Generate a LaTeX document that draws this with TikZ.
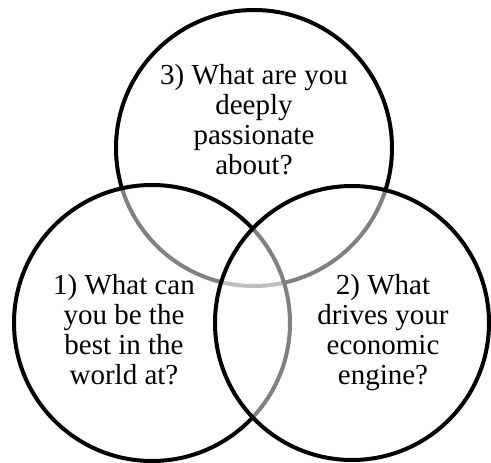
\documentclass[tikz,border=0pt]{standalone}
\usepackage{fontspec}
\setmainfont{Liberation Serif}
\begin{document}
\begin{tikzpicture}[x=1pt,y=-1pt,
    ring/.style={draw=black,line width=4pt,fill=white,fill opacity=0.5},
    question/.style={align=center,font=\fontsize{29}{30}\selectfont}]
  \useasboundingbox (0,0) rectangle (491,463);

  % three rings, each one half-covers the lines drawn before it
  \filldraw[ring] (254,148) circle (138);
  \filldraw[ring] (152,323) circle (138);
  \filldraw[ring] (352,323) circle (137);

  % questions
  \node[question] (passion) at (254,120) {3) What are you\\deeply\\passionate\\about?};
  \node[question] (best) at (124,330) {1) What can\\you be the\\best in the\\world at?};
  \node[question] (engine) at (383,333) {2) What\\drives your\\economic\\engine?};
\end{tikzpicture}
\end{document}
